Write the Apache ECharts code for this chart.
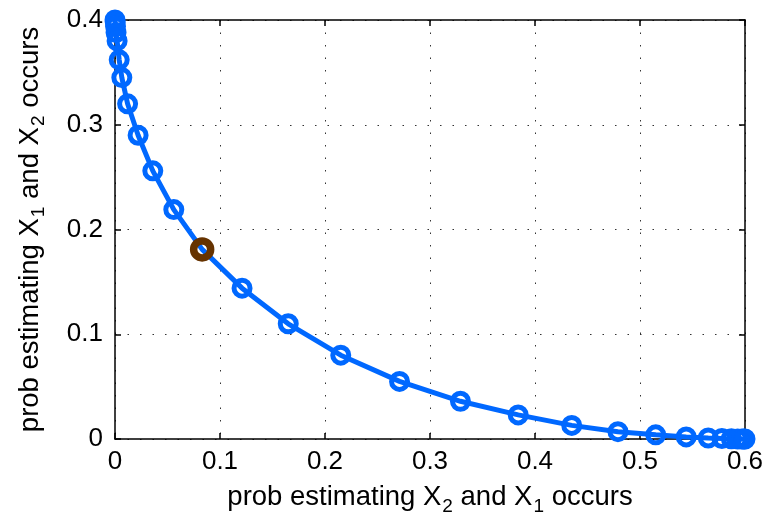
<!DOCTYPE html>
<html><head><meta charset="utf-8">
<script src="https://cdn.jsdelivr.net/npm/echarts@6/dist/echarts.min.js"></script>
<style>html,body{margin:0;padding:0;background:#fff}#c{width:771px;height:517px}</style>
</head><body><div id="c"></div>
<script>
const xVals = [0, 0.0002, 0.0005, 0.001, 0.002, 0.004, 0.0065, 0.012, 0.022, 0.036, 0.056, 0.083, 0.121, 0.165, 0.215, 0.271, 0.329, 0.384, 0.435, 0.479, 0.515, 0.544, 0.565, 0.578, 0.587, 0.593, 0.597, 0.599, 0.6];
const yVals = [0.4, 0.398, 0.394, 0.388, 0.38, 0.362, 0.345, 0.320, 0.290, 0.256, 0.219, 0.181, 0.144, 0.110, 0.080, 0.055, 0.036, 0.023, 0.013, 0.007, 0.004, 0.002, 0.001, 0.0005, 0.0002, 0.0001, 0, 0, 0];
const highlightX = [0.083];
const highlightY = [0.181];
const xTicks = [0, 0.1, 0.2, 0.3, 0.4, 0.5, 0.6];
const yTicks = [0, 0.1, 0.2, 0.3, 0.4];

const blue = '#0068ff';
const brown = '#663300';
const font = 'Liberation Sans, Arial, Helvetica, sans-serif';
const mainData = xVals.map((x, i) => [x, yVals[i]]);
const hiData = highlightX.map((x, i) => [x, highlightY[i]]);

const nameRich = {
  t: {fontSize: 27.5, fontFamily: font, color: '#000', lineHeight: 30},
  s: {fontSize: 19, fontFamily: font, color: '#000', padding: [17, 0, 0, 1], lineHeight: 30}
};
const split = {show: true, lineStyle: {color: '#333', type: [1.5, 11], width: 1}};
const axLine = {show: true, onZero: false, lineStyle: {color: '#000', width: 1.5}};
const tick = {show: true, inside: true, length: 6, lineStyle: {color: '#000', width: 1.5}};
const lbl = {fontSize: 26, fontFamily: font, color: '#000'};

const chart = echarts.init(document.getElementById('c'));
chart.setOption({
  backgroundColor: '#fff',
  animation: false,
  grid: {left: 115, right: 26, top: 20, bottom: 78, containLabel: false, outerBoundsMode: 'none'},
  xAxis: [{
    type: 'value', min: 0, max: 0.6, interval: 0.1,
    axisLine: axLine, axisTick: tick, splitLine: split,
    axisLabel: Object.assign({margin: 10, formatter: v => String(+v.toFixed(1))}, lbl),
    name: '{t|prob estimating X}{s|2}{t| and X}{s|1}{t| occurs}',
    nameLocation: 'middle', nameGap: 31,
    nameTextStyle: {rich: nameRich}
  }, {
    type: 'value', position: 'top', min: 0, max: 0.6, interval: 0.1,
    axisLine: axLine, axisTick: tick, splitLine: {show: false}, axisLabel: {show: false}
  }],
  yAxis: [{
    type: 'value', min: 0, max: 0.4, interval: 0.1,
    axisLine: axLine, axisTick: tick, splitLine: split,
    axisLabel: Object.assign({margin: 12, formatter: v => String(+v.toFixed(1))}, lbl),
    name: '{t|prob estimating X}{s|1}{t| and X}{s|2}{t| occurs}',
    nameLocation: 'middle', nameGap: 70, nameRotate: 90,
    nameTextStyle: {rich: nameRich}
  }, {
    type: 'value', position: 'right', min: 0, max: 0.4, interval: 0.1,
    axisLine: axLine, axisTick: tick, splitLine: {show: false}, axisLabel: {show: false}
  }],
  series: [{
    type: 'line', data: mainData, clip: false,
    symbol: 'circle', symbolSize: 16, showAllSymbol: true,
    lineStyle: {color: blue, width: 5},
    itemStyle: {color: 'rgba(0,0,0,0)', borderColor: blue, borderWidth: 5, opacity: 1},
    z: 3
  }, {
    type: 'scatter', data: hiData, clip: false,
    symbol: 'circle', symbolSize: 17,
    itemStyle: {color: 'rgba(0,0,0,0)', borderColor: brown, borderWidth: 7.5, opacity: 1},
    z: 4
  }]
});
</script></body></html>
